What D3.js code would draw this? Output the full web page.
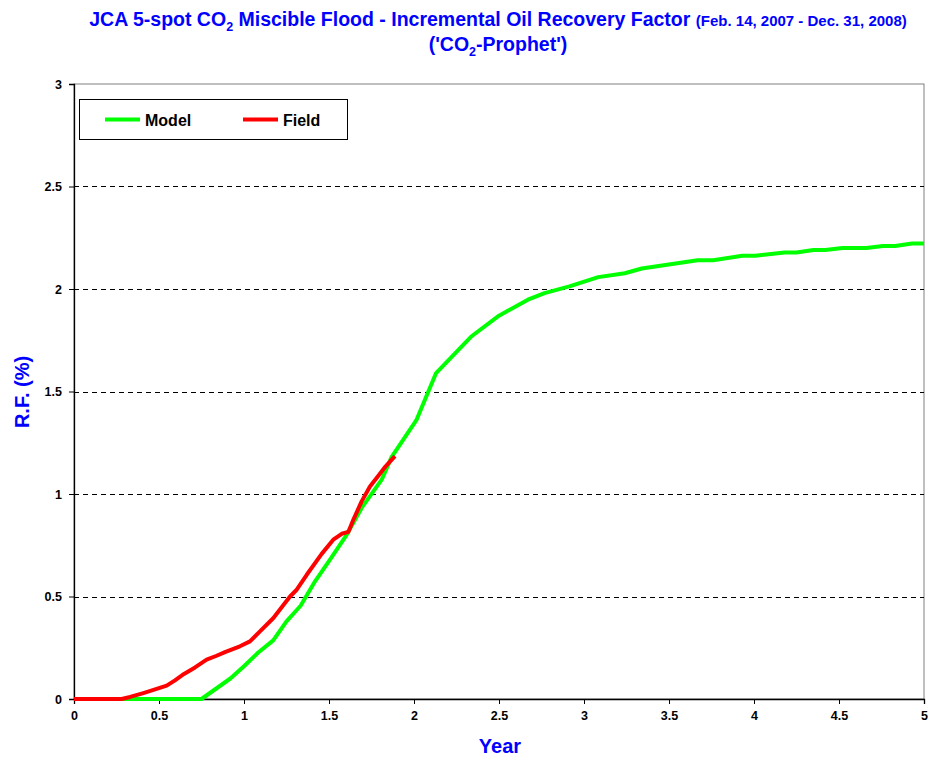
<!DOCTYPE html>
<html><head><meta charset="utf-8">
<script src="https://cdn.jsdelivr.net/npm/d3@7"></script>
<style>body{margin:0;background:#fff;} text{font-family:"Liberation Sans",Arial,sans-serif;font-weight:bold;}</style>
</head><body>
<svg id="c" width="928" height="758"></svg>
<script>
const modelX = [0, 0.75, 0.92, 1.0, 1.084, 1.172, 1.25, 1.333, 1.418, 1.506, 1.598, 1.692, 1.81, 1.868, 2.014, 2.13, 2.335, 2.5, 2.67, 2.768, 2.914, 3.084, 3.24, 3.34, 3.668, 3.76, 3.93, 4.007, 4.18, 4.25, 4.35, 4.42, 4.52, 4.66, 4.76, 4.83, 4.93, 5.0];
const modelY = [0, 0, 0.1, 0.16, 0.227, 0.286, 0.379, 0.455, 0.574, 0.68, 0.793, 0.932, 1.07, 1.18, 1.36, 1.59, 1.767, 1.87, 1.948, 1.98, 2.013, 2.058, 2.077, 2.1, 2.14, 2.14, 2.162, 2.162, 2.178, 2.178, 2.19, 2.19, 2.2, 2.2, 2.21, 2.21, 2.222, 2.222];
const fieldX = [0, 0.28, 0.33, 0.408, 0.486, 0.545, 0.594, 0.647, 0.712, 0.78, 0.839, 0.888, 0.976, 1.035, 1.094, 1.173, 1.241, 1.271, 1.31, 1.369, 1.457, 1.525, 1.575, 1.614, 1.643, 1.692, 1.741, 1.795, 1.832, 1.888];
const fieldY = [0, 0, 0.01, 0.029, 0.049, 0.065, 0.091, 0.122, 0.154, 0.192, 0.211, 0.229, 0.257, 0.281, 0.33, 0.395, 0.468, 0.5, 0.533, 0.606, 0.708, 0.777, 0.806, 0.815, 0.874, 0.964, 1.037, 1.094, 1.134, 1.185];
const xTicks = [0, 0.5, 1, 1.5, 2, 2.5, 3, 3.5, 4, 4.5, 5];
const yTicks = [0, 0.5, 1, 1.5, 2, 2.5, 3];
const seriesNames = ["Model", "Field"];
const seriesColors = ["#00FF00", "#FF0000"];

const svg = d3.select("#c");
const L = 74, R = 924, T = 84, B = 699;
const x = d3.scaleLinear().domain([0, 5]).range([L, R]);
const y = d3.scaleLinear().domain([0, 3]).range([B, T]);
const blue = "#0000FF";

// title
const t1 = svg.append("text").attr("x", 498).attr("y", 26).attr("text-anchor", "middle").attr("fill", blue).attr("font-size", 19.5);
t1.append("tspan").text("JCA 5-spot CO");
t1.append("tspan").attr("font-size", 12.5).attr("dy", 5).text("2");
t1.append("tspan").attr("dy", -5).text(" Miscible Flood - Incremental Oil Recovery Factor ");
t1.append("tspan").attr("font-size", 15).text("(Feb. 14, 2007 - Dec. 31, 2008)");
const t2 = svg.append("text").attr("x", 498).attr("y", 51).attr("text-anchor", "middle").attr("fill", blue).attr("font-size", 19.5);
t2.append("tspan").text("('CO");
t2.append("tspan").attr("font-size", 12.5).attr("dy", 5).text("2");
t2.append("tspan").attr("dy", -5).text("-Prophet')");

// plot border
svg.append("rect").attr("x", L).attr("y", T).attr("width", R - L).attr("height", B - T).attr("fill", "none").attr("stroke", "#808080").attr("stroke-width", 1);

// gridlines
svg.append("g").selectAll("line").data(yTicks.filter(d => d > 0 && d < 3)).join("line")
  .attr("x1", L).attr("x2", R).attr("y1", d => Math.round(y(d)) + 0.5).attr("y2", d => Math.round(y(d)) + 0.5)
  .attr("stroke", "#000").attr("stroke-dasharray", "5,4").attr("stroke-width", 1);

// axes
const xAxis = svg.append("g").attr("transform", `translate(0,${B})`)
  .call(d3.axisBottom(x).tickValues(xTicks).tickSize(5).tickFormat(d3.format("")));
const yAxis = svg.append("g").attr("transform", `translate(${L},0)`)
  .call(d3.axisLeft(y).tickValues(yTicks).tickSize(5).tickFormat(d3.format("")));
[xAxis, yAxis].forEach(a => {
  a.select(".domain").attr("stroke", "#000").attr("stroke-width", 1.3);
  a.selectAll(".tick line").attr("stroke", "#000");
  a.selectAll("text").attr("font-size", 12.5).attr("font-family", "Liberation Sans, Arial, sans-serif").attr("font-weight", "bold").attr("fill", "#000");
});
xAxis.selectAll("text").attr("dy", "1.0em");
yAxis.selectAll("text").attr("x", -12);

// axis titles
svg.append("text").attr("x", 500).attr("y", 753).attr("text-anchor", "middle").attr("fill", blue).attr("font-size", 20).text("Year");
svg.append("text").attr("transform", "translate(29,392) rotate(-90)").attr("text-anchor", "middle").attr("fill", blue).attr("font-size", 20).text("R.F. (%)");

// lines
const line = d3.line().x(d => x(d[0])).y(d => y(d[1]));
const modelData = modelX.map((v, i) => [v, modelY[i]]);
const fieldData = fieldX.map((v, i) => [v, fieldY[i]]);
svg.append("path").datum(modelData).attr("d", line).attr("fill", "none").attr("stroke", seriesColors[0]).attr("stroke-width", 4).attr("stroke-linejoin", "round");
svg.append("path").datum(fieldData).attr("d", line).attr("fill", "none").attr("stroke", seriesColors[1]).attr("stroke-width", 4).attr("stroke-linejoin", "round");

// legend
const lg = svg.append("g");
lg.append("rect").attr("x", 79.5).attr("y", 99.5).attr("width", 268).attr("height", 40).attr("fill", "#fff").attr("stroke", "#000").attr("stroke-width", 1);
const lx = [105, 243];
seriesNames.forEach((n, i) => {
  lg.append("line").attr("x1", lx[i]).attr("x2", lx[i] + 35).attr("y1", 119.5).attr("y2", 119.5).attr("stroke", seriesColors[i]).attr("stroke-width", 4);
  lg.append("text").attr("x", lx[i] + 40).attr("y", 126).attr("font-size", 16).attr("fill", "#000").text(n);
});
</script>
</body></html>
